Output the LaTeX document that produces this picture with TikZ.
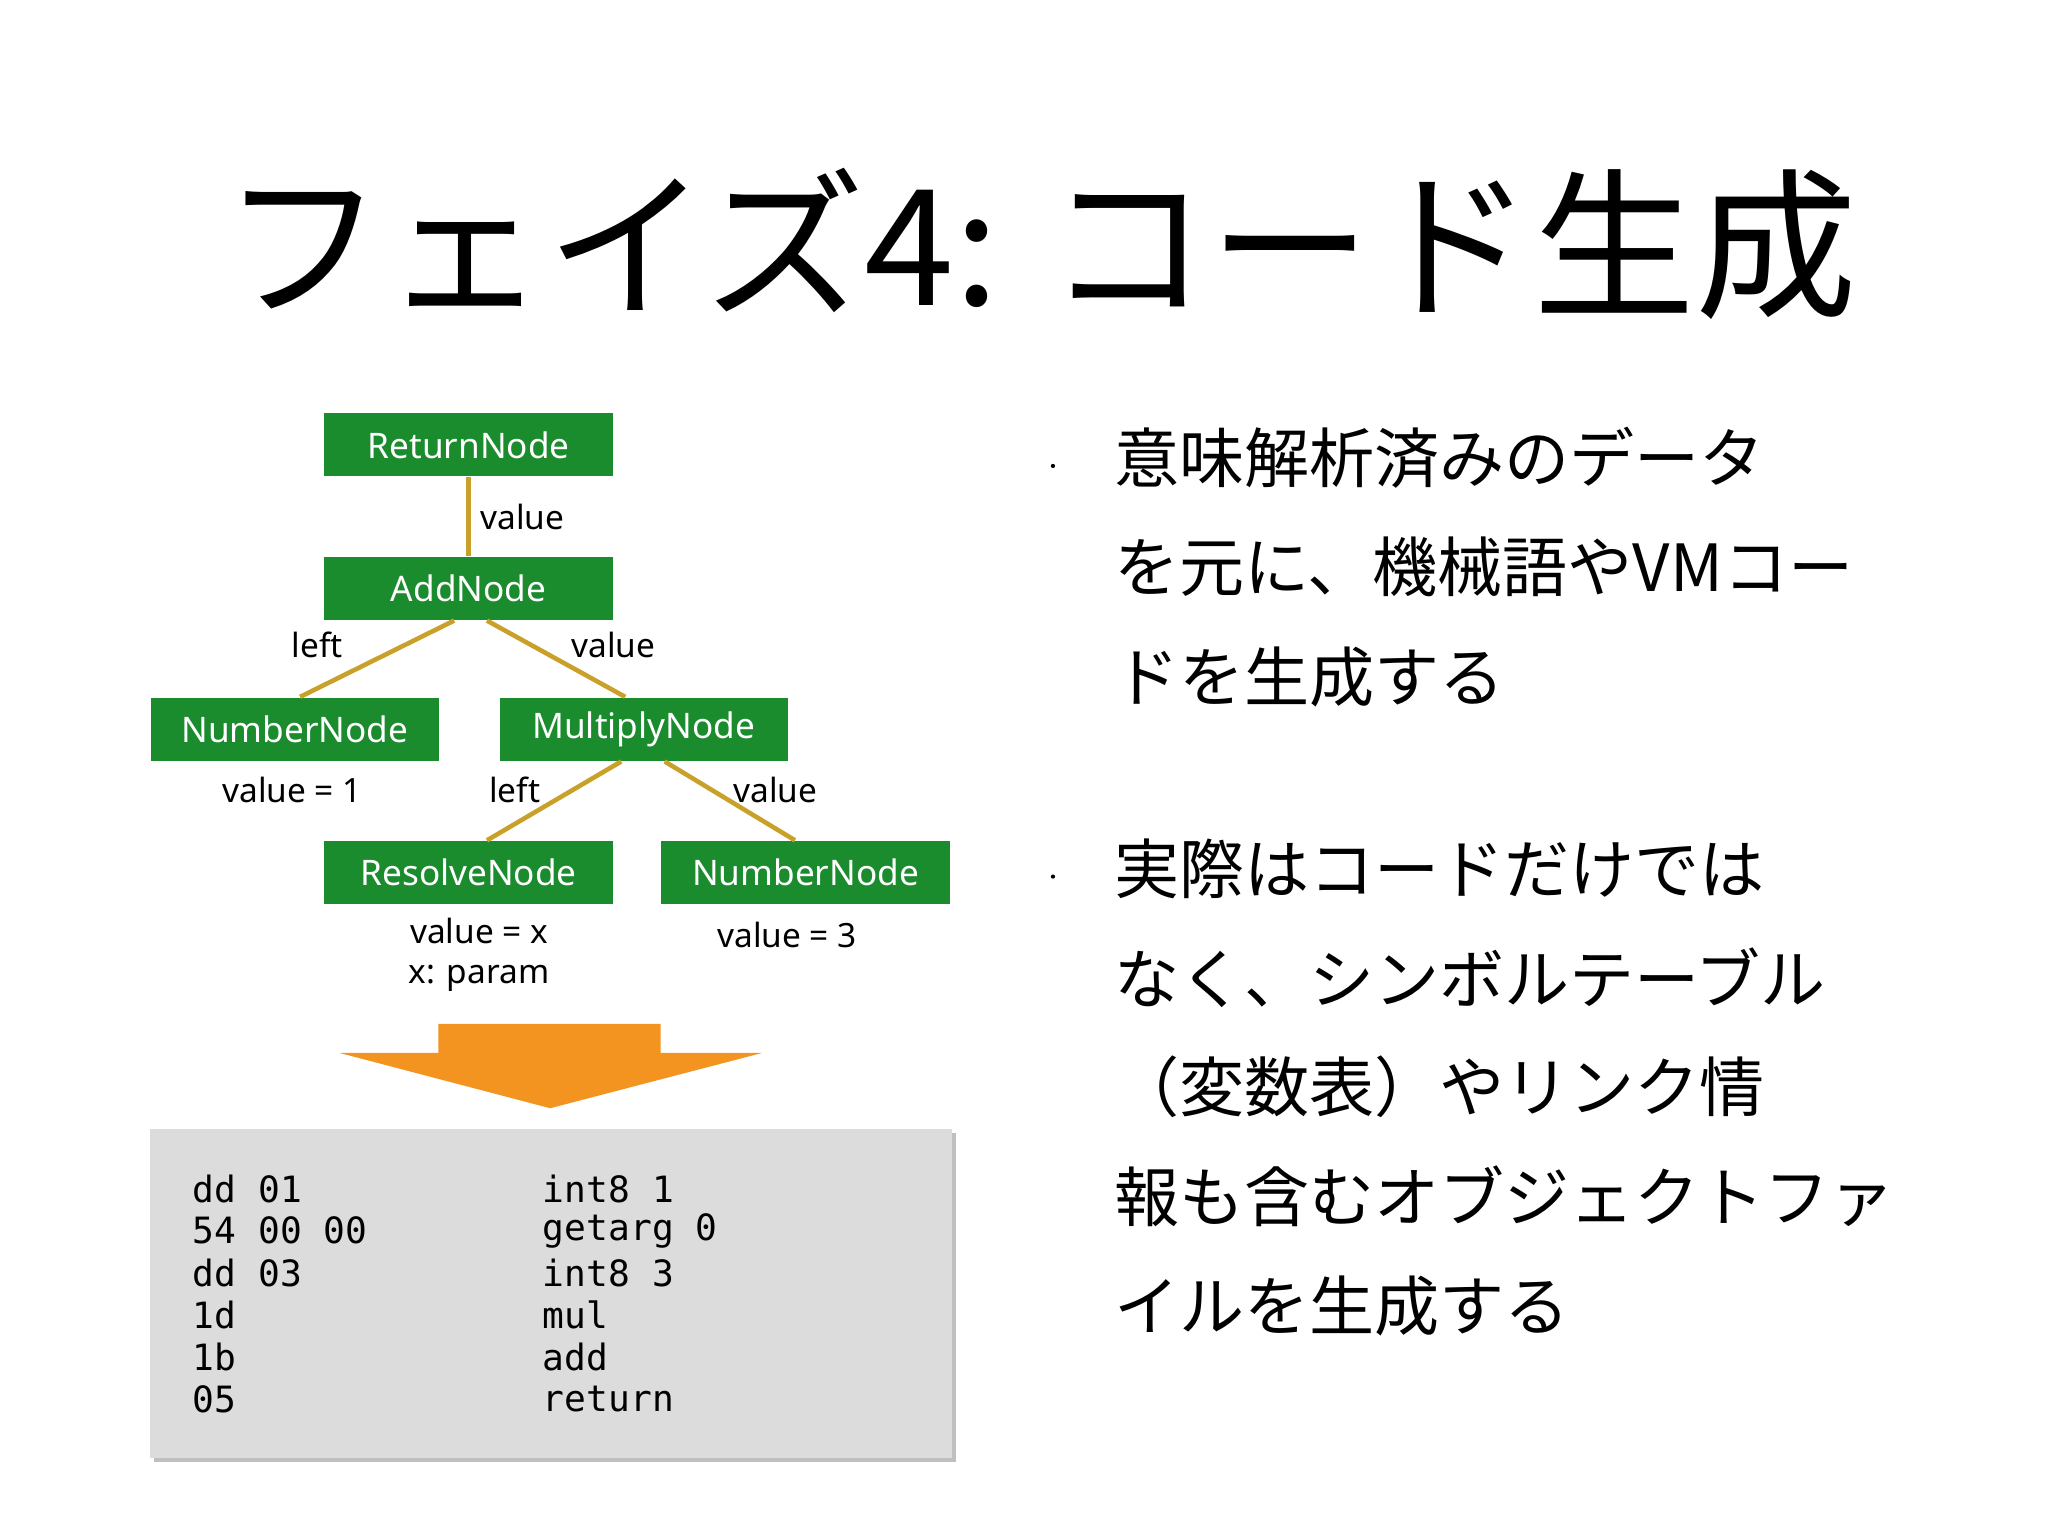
\documentclass[tikz,border=0pt]{standalone}
\usepackage{fontspec}
\setmainfont{Noto Sans}
\newfontfamily\cjk{Noto Sans CJK JP}
\newfontfamily\mono{DejaVu Sans Mono}
\begin{document}
\begin{tikzpicture}[x=0.01316cm,y=-0.01316cm,
  tn/.style={fill=green!50!black!90!teal, draw=none, text=white, minimum width=219*0.01316cm, minimum height=48*0.01316cm, inner sep=0pt, font=\fontsize{10pt}{12pt}\selectfont},
  lk/.style={draw={rgb,255:red,200;green,160;blue,42}, line width=1.3pt},
  lb/.style={font=\fontsize{9.5pt}{12pt}\selectfont, inner sep=0pt},
  code/.style={anchor=west, inner sep=0pt, font=\mono\fontsize{10.3pt}{12pt}\selectfont},
  bl/.style={anchor=west, inner sep=0pt, font=\cjk\fontsize{18.5pt}{22pt}\selectfont}]
\definecolor{tg}{RGB}{26,140,46}
\tikzset{tn/.append style={fill=tg}}
\useasboundingbox (0,0) rectangle (1556,1167);
\node[font=\cjk\fontsize{46pt}{50pt}\selectfont, inner sep=0pt] (title) at (790,185) {フェイズ4: コード生成};
% tree
\node[tn] (ret) at (356,338) {ReturnNode};
\node[tn] (add) at (356,447) {AddNode};
\node[tn] (num1) at (224,554) {NumberNode};
\node[tn] (mul) at (489,554) {MultiplyNode};
\node[tn] (res) at (356,663) {ResolveNode};
\node[tn] (num3) at (612,663) {NumberNode};
\draw[lk] (ret.south) -- (add.north);
\draw[lk] ([xshift=-11*0.01316cm]add.south) -- ([xshift=4*0.01316cm]num1.north);
\draw[lk] ([xshift=14*0.01316cm]add.south) -- ([xshift=-14*0.01316cm]mul.north);
\draw[lk] ([xshift=-17*0.01316cm]mul.south) -- ([xshift=14*0.01316cm]res.north);
\draw[lk] ([xshift=16*0.01316cm]mul.south) -- ([xshift=-8*0.01316cm]num3.north);
\node[lb] (l1) at (397,393) {value};
\node[lb] (l2) at (241,490) {left};
\node[lb] (l3) at (466,490) {value};
\node[lb] (l4) at (222,600) {value = 1};
\node[lb] (l5) at (391,600) {left};
\node[lb] (l6) at (589,600) {value};
\node[lb] (l7) at (364,707) {value = x};
\node[lb] (l8) at (364,743) {x: param};
\node[lb] (l9) at (598,710) {value = 3};
% arrow
\definecolor{org}{RGB}{243,148,32}
\fill[org] (333,778) -- (502,778) -- (502,800) -- (579,800) -- (418,842) -- (258,800) -- (333,800) -- cycle;
% code box
\fill[black!25] (117,861) rectangle (726,1111);
\fill[fill={rgb,255:red,220;green,220;blue,221}] (114,858) rectangle (723,1108);
\foreach \a/\b [count=\i] in {dd 01/int8 1, 54 00 00/getarg 0, dd 03/int8 3, 1d/mul, 1b/add, 05/return}{
  \node[code] (c\i) at (146,871+32*\i) {\a};
  \node[code] (d\i) at (412,871+32*\i) {\b};
}
% bullets
\fill (800,354) circle (1.6);
\fill (800,666) circle (1.6);
\node[bl] (b1) at (846,348) {意味解析済みのデータ};
\node[bl] (b2) at (846,431) {を元に、機械語やVMコー};
\node[bl] (b3) at (846,514) {ドを生成する};
\node[bl] (b4) at (846,660) {実際はコードだけでは};
\node[bl] (b5) at (846,743) {なく、シンボルテーブル};
\node[bl] (b6) at (846,826) {（変数表）やリンク情};
\node[bl] (b7) at (846,909) {報も含むオブジェクトファ};
\node[bl] (b8) at (846,992) {イルを生成する};
\end{tikzpicture}
\end{document}
